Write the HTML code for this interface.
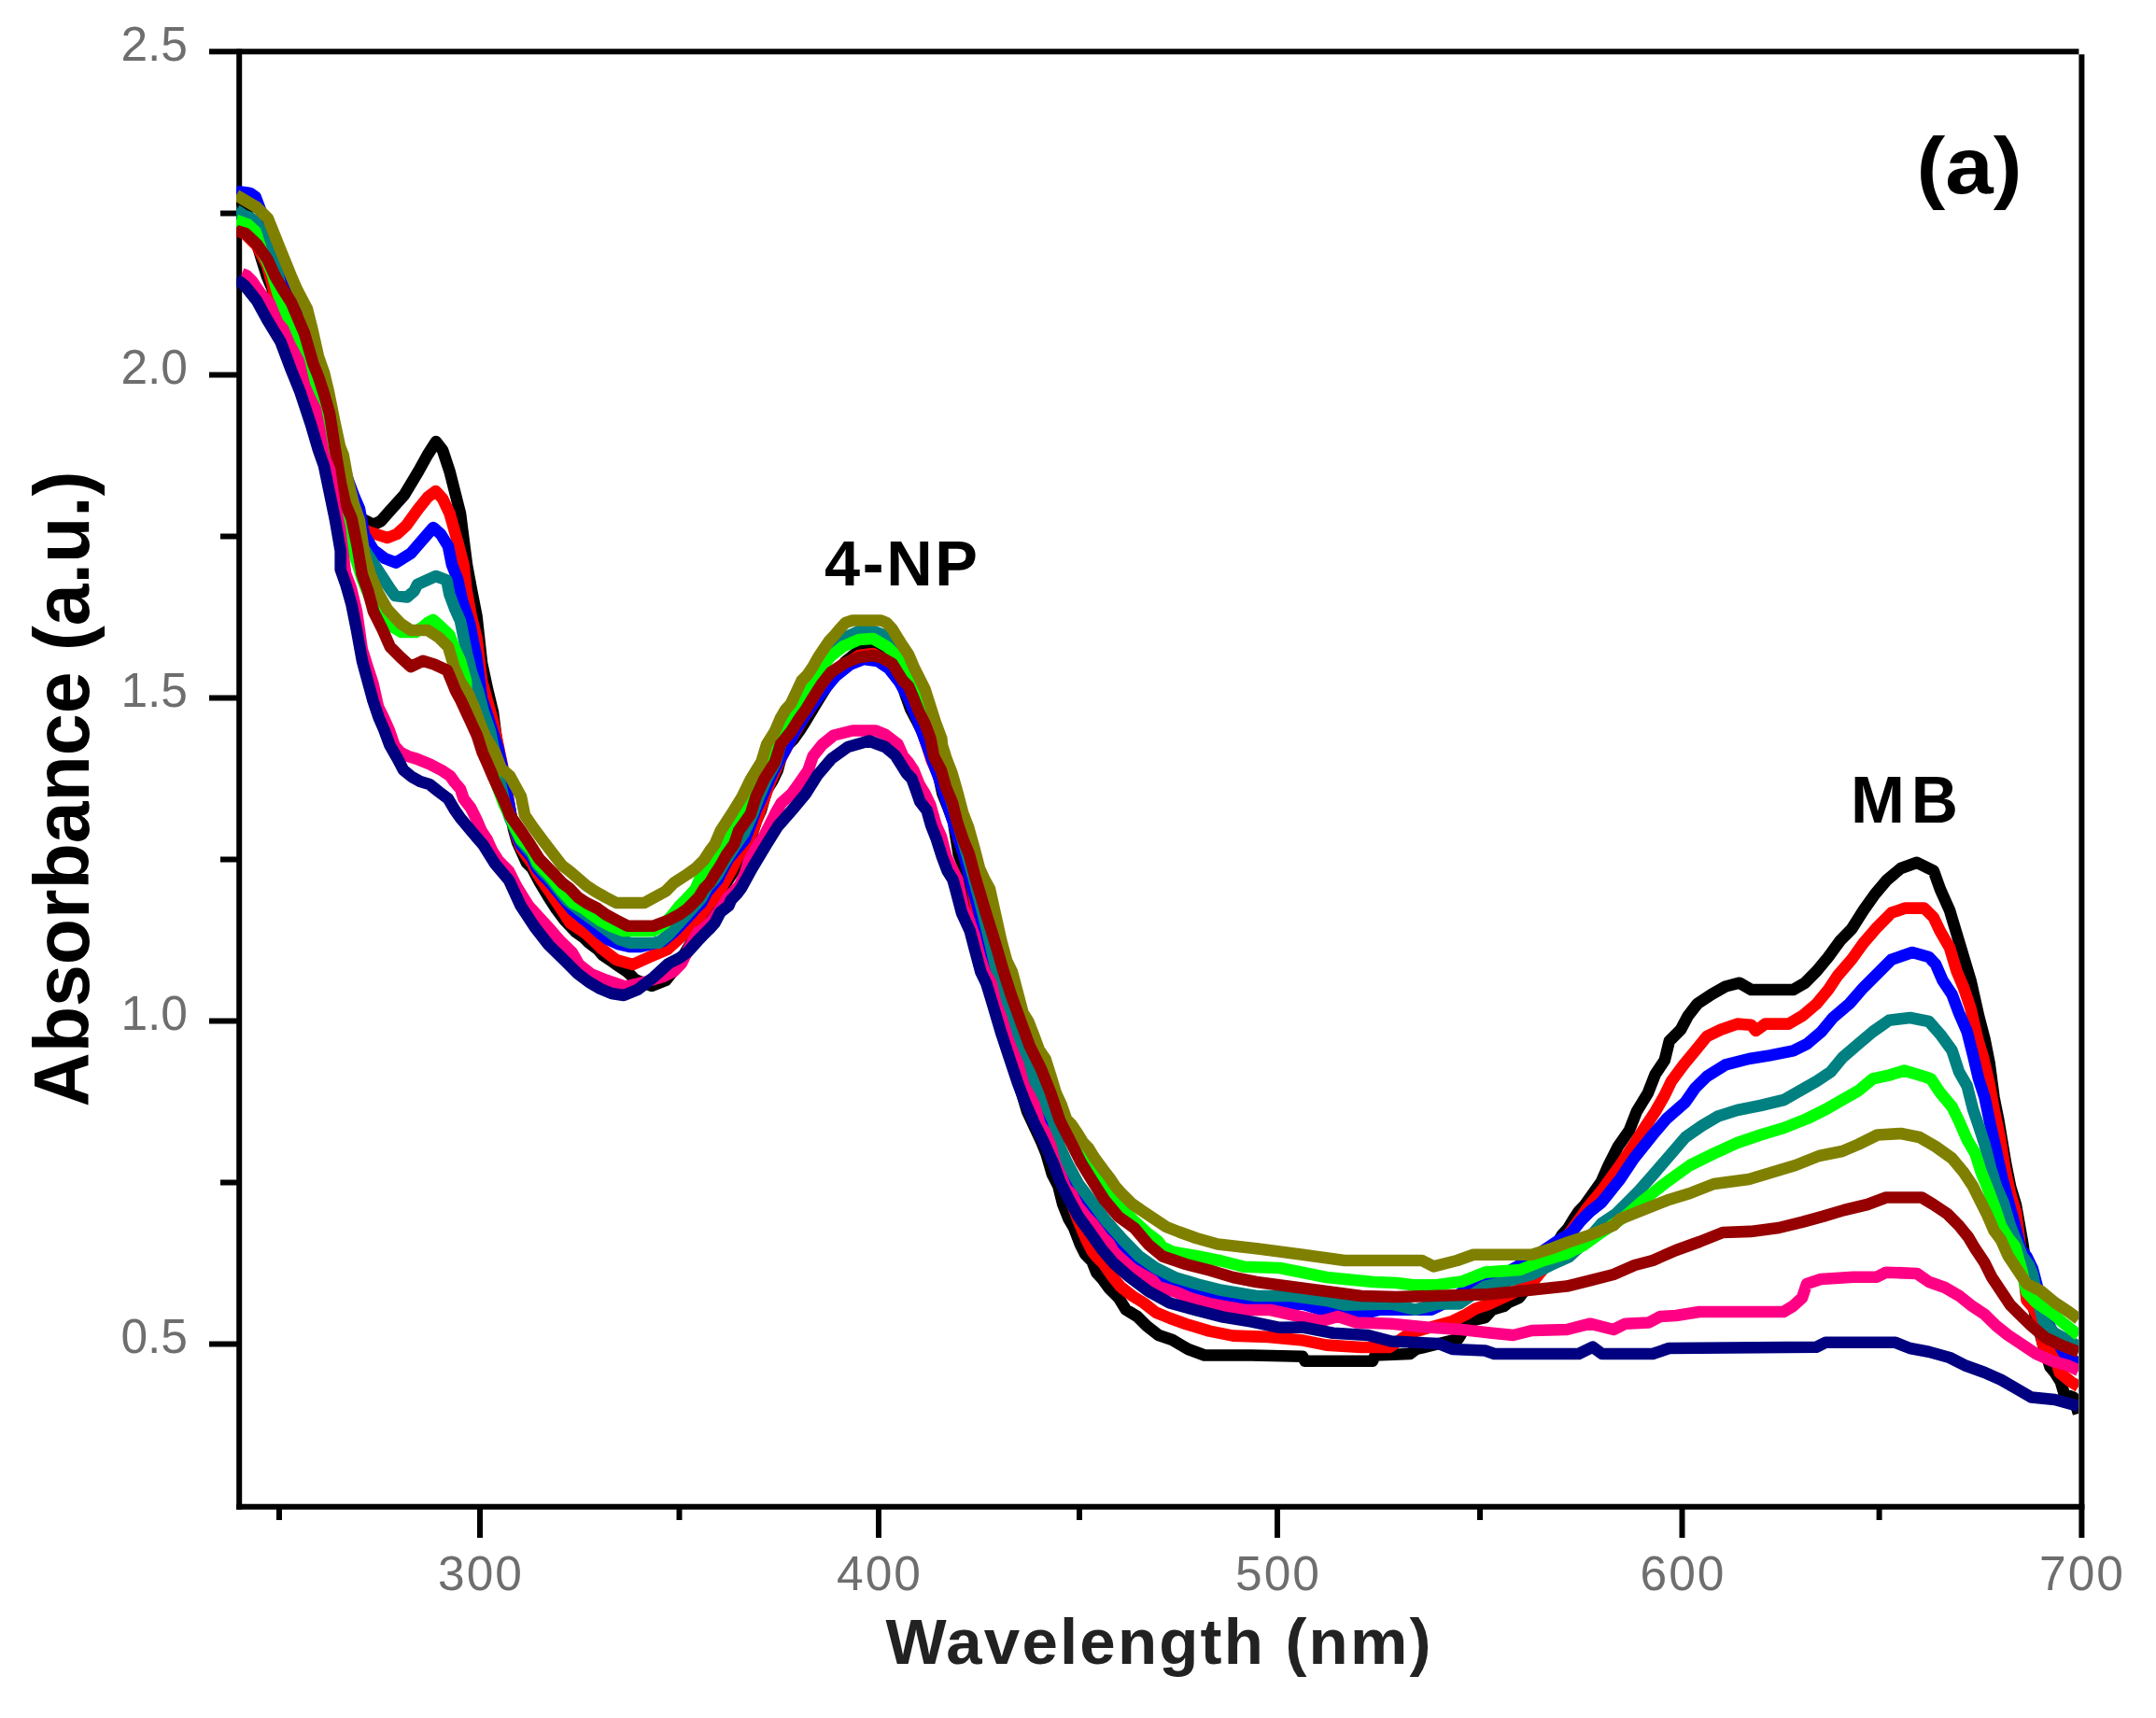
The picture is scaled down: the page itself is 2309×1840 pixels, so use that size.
<!DOCTYPE html>
<html lang="en"><head><meta charset="utf-8"><title>Absorbance spectra (a)</title>
<style>html,body{margin:0;padding:0;background:#fff}body{width:2309px;height:1840px;overflow:hidden}svg{display:block}text{font-family:"Liberation Sans",Arial,sans-serif}</style></head><body>
<svg width="2309" height="1840" viewBox="0 0 2309 1840">
<rect width="2309" height="1840" fill="#fff"/>
<g stroke="#000" stroke-width="6" fill="none" stroke-linecap="butt">
<path d="M224 55.3H2226.4"/>
<path d="M256.2 52.3V1616.8"/>
<path d="M253.2 1613.8H2232.4"/>
<path d="M2229.4 58.3V1647"/>
<path d="M224 401.5H256.2"/>
<path d="M224 747.5H256.2"/>
<path d="M224 1093.5H256.2"/>
<path d="M224 1439.5H256.2"/>
<path d="M236 228.5H256.2"/>
<path d="M236 574.5H256.2"/>
<path d="M236 920.5H256.2"/>
<path d="M236 1266.5H256.2"/>
<path d="M514 1613.8V1647"/>
<path d="M941 1613.8V1647"/>
<path d="M1368 1613.8V1647"/>
<path d="M1801.5 1613.8V1647"/>
<path d="M299 1613.8V1628"/>
<path d="M727.5 1613.8V1628"/>
<path d="M1156 1613.8V1628"/>
<path d="M1585 1613.8V1628"/>
<path d="M2012.6 1613.8V1628"/>
</g>
<clipPath id="c"><rect x="253" y="58" width="1973" height="1553"/></clipPath>
<g clip-path="url(#c)">
<polyline fill="none" stroke="#000000" stroke-width="12.6" stroke-linejoin="round" points="253,213 262,219 268,238 274,257 280,277 286,296 291.5,309 297,339 303,352 310,371 318,392 325,415 332,435 338,452 343,480 349,497 355,520 361,535 370,546 380,553 390,557 400,562 408,558 415,550 433,530 448,505 458,487 467,473 474,482 481.6,505 493,550 500,605 505,632 510.5,660 516,710 522,738 528,763 534,809 545,860 550,888 554,902 558,911 564,924 570,930 578,945 587,960 596,974 605,986 610.7,992 616.5,998 625,1004 631,1010 640,1016.6 645.6,1023 654.5,1029 663,1035 672,1041 680,1049 698,1056 713,1050 725,1035 740,1010 752,990 760,976.5 765,970 778,945 789,928 797.8,908 803.8,899 809.4,880.5 815,868 821,846.5 827,837 832.7,825 838.7,803 850.4,791 856,783 863,772 875,752 890,728 905,709 920,697 935,692 952.8,704 962,720 970,745 975,759 981.6,771.5 987.8,784 997.7,810 1003.3,822 1009.4,850 1015.4,865 1021,880 1026.6,914.8 1032.6,930 1038.7,946 1043,975 1047,1000 1053,1020 1063,1060 1074,1100 1083,1130 1091,1160 1100,1190 1115.3,1222.8 1120.3,1235 1127,1257.9 1133.3,1270 1138.3,1290 1144.3,1305 1150.3,1315.4 1157,1333 1162,1343 1169.3,1350.5 1174.3,1363 1180.7,1370 1188,1380 1198,1390 1205.8,1402.6 1218,1410 1228,1420 1240.8,1430 1255.5,1435 1272.5,1445 1290,1451.5 1340,1451.5 1395,1452.7 1397.7,1457.7 1470,1457.7 1472.8,1451.5 1510,1450 1516.6,1445 1561.7,1434 1573,1415 1590.5,1411 1598,1402.7 1610.5,1399 1615.5,1395 1626.8,1390 1650,1360 1673,1322.6 1679,1316 1685.7,1305 1690.7,1297.5 1697,1291 1702.7,1283 1715,1265.6 1722.7,1248 1732.8,1228 1745,1210.5 1752.8,1190.5 1765,1170.4 1772.8,1150.4 1782.8,1135.4 1787.8,1115 1800,1102.8 1807.9,1087.8 1817.9,1075 1833,1065 1848,1056.5 1863,1052.7 1875.5,1060 1920.5,1060 1933,1052.7 1945.6,1040 1958,1025 1970.6,1007.7 1983,995 1995.7,975 2008,957.6 2020.7,942.6 2035.7,930 2053,923.8 2070.8,932.6 2078,952.6 2088,975 2095.5,1000 2103,1025 2110.5,1050 2119,1087.8 2125.5,1112.8 2130.5,1137.9 2135.5,1175.4 2140.5,1200.5 2148,1245.5 2153,1270.6 2159,1290.6 2166,1330 2172,1370 2180,1410 2188,1440 2195.6,1464 2200.6,1470 2206.9,1480 2210.7,1492.9 2220.7,1496.6 2226,1514"/>
<polyline fill="none" stroke="#ff0000" stroke-width="12.6" stroke-linejoin="round" points="253,246 263,251 275,263 286,284 291.5,304 297,331 303,343 308.7,357 320,382.5 326,405.8 335,432 343.6,459 350,488 357,515 365,540 375,556 385,565 396,570 415,576 425,572 435,563 448,545 458,532.6 466.6,526 474,534 481.6,550 490,580 496.6,605 499.5,632 504.7,660 510.5,683 516,729 522,751 528,772 540,830 548,878 553,895 558,908 564,917 570,925 575,935 581,944 590,957 600,972 610.7,988.5 627.7,1000 645,1016.6 660,1028 677.8,1033 697.8,1024 715,1016.6 730,1002.8 745,987.8 758,970 770,955 783,932.7 789,920 806.7,889 824,840 835,815 848,790 860,770 875,748 890,728 905,712 920,702 935,700 950,708 962,722 972,740 982,765 990,790 998,815 1009.4,840.3 1015.4,852.6 1021,868 1026.6,899 1032.6,911.5 1038.7,933 1044.5,970.5 1059,1020.6 1065,1045 1070,1065 1076,1082.6 1081,1102.6 1087.6,1120 1094,1130 1099,1150 1105,1162.7 1111,1175 1116,1199 1125,1225 1135,1255 1145,1282 1155,1308 1164,1329 1170,1340.5 1175,1346.7 1181.5,1353 1190,1365.5 1200,1378 1212.8,1388 1225,1395.5 1237.8,1405.6 1252.8,1411.8 1270,1418 1295.4,1425.6 1320.5,1430.6 1358,1431.9 1395.6,1435.6 1420.6,1440.6 1458,1443 1488,1443 1510,1427.7 1555.5,1415 1570.5,1407.7 1580.5,1401.4 1595.5,1396.4 1620,1385 1643,1371.4 1660,1350 1680,1322 1702,1291 1715,1275.6 1735,1248 1750,1225.5 1762.8,1205.5 1772.8,1190.5 1782.8,1173 1790,1158 1803,1140.4 1815.4,1125.4 1828,1110 1843,1102.8 1860.5,1096.6 1875.5,1097.8 1880.5,1104 1890.5,1096.6 1915.5,1096.6 1930.6,1087.8 1945.6,1075 1958,1060 1968,1045 1983,1027.7 1995.7,1010 2010.7,992.7 2025.7,977.6 2040.7,972.6 2060.8,972.6 2070.8,982.6 2078,997.7 2088,1015 2095.5,1040 2103,1057.7 2110.5,1080 2118,1112.8 2124,1132.9 2130.5,1160.4 2135.5,1188 2141.8,1218 2148,1255.5 2153,1278 2159,1298 2165,1345 2170.6,1392.7 2176.9,1400 2181.9,1409 2188,1440 2199,1445 2205.7,1470 2218,1480 2226,1485"/>
<polyline fill="none" stroke="#0000ff" stroke-width="12.6" stroke-linejoin="round" points="253,205 262,206 268,207 273.7,211 278,222.4 283,236 297,266 310,298 320,320 330,345 338,375 346,405 353,435 360,465 367,495 373,515 379,531 385,545 390,572.6 400,589 412,598 424,602.7 440,592.7 453,577.6 464,565 472,572 480,585 484,605 490,620 495,643 503,668 510,703 513,725 516,748 522,766 528,785 533,800 538,822 543,850 548,878 553,893 558,905 564,912 570,919 575,930 581,937 587,943 593,950 602,961 613.5,975 622,982 631,989 643,1000 651,1006 662,1011 675,1014 685,1014 710,1008 722,998 733.6,985.7 739.7,979 745,973 751.3,967 757.4,955 768.5,942.4 774.6,930 780,920 786,913 797.8,899 803.8,883.6 809.4,868 815,856 827,828 840,805 852,782 865,762 880,742 895,724 910,712 925,706 940,708 952,716 963,730 973,748 983,772 992,796 1000,818 1008,840 1015,862 1024,890 1032,915 1040,945 1048,975 1056,1005 1066,1040 1076,1069 1082.6,1085 1087.6,1112.6 1094,1125 1100,1136.4 1110,1170 1122.7,1205 1134,1243 1140,1254 1146.4,1260 1152.7,1273 1157.7,1279 1164,1291.7 1170,1304 1175,1310 1181.5,1316.7 1187.8,1323 1192.8,1329 1202.8,1341.7 1210,1348 1215,1354 1230,1365.5 1245,1371.8 1257.9,1378 1283,1384 1315.5,1390.5 1345.5,1395.5 1370.5,1396.8 1395,1396.4 1415,1402.7 1452.8,1409 1477.9,1402.7 1503,1402.7 1533,1402.7 1555,1392 1574,1377.6 1590.5,1372.6 1615,1362 1640,1348 1655,1338 1670.6,1327.6 1683,1320 1693,1307.5 1703,1297.5 1715,1288 1735,1263 1750,1240.5 1770,1215.5 1785,1198 1805,1180.4 1815.4,1165.4 1828,1152.9 1848,1140.4 1873,1134 1895.5,1130.4 1920.5,1125.4 1935.6,1117.8 1950.6,1105 1963,1090 1980.6,1075 1995.7,1057.7 2010.7,1042.7 2025.7,1027.7 2048,1020 2065.8,1025 2073,1032.7 2080.5,1050 2090.5,1065 2098,1085 2106.7,1105 2113,1130 2119,1155.4 2125.5,1175.4 2131.8,1205.5 2138,1233 2144,1260.5 2150.6,1285.6 2158,1313 2164,1337.6 2170.6,1346 2176.9,1359 2185,1390 2195,1420 2205,1440 2212,1451.5 2226,1460"/>
<polyline fill="none" stroke="#008080" stroke-width="12.6" stroke-linejoin="round" points="253,225 262,231 268,233 274,238 280,248 286,258 292,275 298,295 303,322 308,350 314.5,371 322,395 330,420 338,445 345,475 352,500 358,525 365,545 372,560 380,572 390,588 403,608 411.5,621 417.3,630 423,638 436,639.5 443.5,633 447,626 458,621 466.8,617 478.4,621.3 481.3,636.4 487,651.6 493,665 500,700 505,720 512,740 518,763 525,783 531,812 536,840 541,862 546,876 552,889 558,901 564,908 570,915 575,926 581,933 587,939 593,946 602,957.5 607,964 622,976 640,989 651,997 663,1006 675,1010 705,1010 716,1001 728,988 739.7,975 745,969 751.3,962 757.4,950 763,944 768.5,937 774.6,926 786,908 797,892 806,872 813,853 821,834.5 831,816 836,797 841.7,775 852,758 863,742 875,722 887.7,697.6 900,685 920,676 935,676 946.5,680 952.8,685 965,705 975,725 985,750 995,778 1003,805 1010,830 1018,855 1026,882 1034,910 1042,938 1050,968 1058,1000 1065,1030 1070,1050 1087.6,1100 1105,1150 1117.6,1180 1127.7,1200 1135,1227.8 1142.7,1245 1155,1267.9 1170,1288 1185,1308 1202.8,1328 1220,1345.5 1237.8,1358 1257.9,1368 1283,1375.5 1308,1381.8 1345.5,1388 1383,1388 1420.6,1393 1440,1397.7 1490,1396.4 1515.4,1402.7 1540.5,1396.4 1563,1396.4 1575,1388 1590.5,1377.6 1615,1372 1640.6,1365 1660.6,1355 1680.7,1346 1700,1328 1715.7,1310 1730.7,1300 1740.8,1290 1755,1275.6 1772.8,1255.5 1790,1235.5 1805,1218 1823,1205.5 1840,1195.5 1860.5,1189 1885.5,1184 1910.5,1178 1928,1168 1945.6,1158 1960.6,1148 1973,1132.9 1990.6,1117.8 2005.7,1105 2023,1092.8 2045.7,1090 2065.8,1094 2078,1107.8 2090.5,1125 2098,1147.9 2106.7,1163 2113,1188 2119,1205.5 2125.5,1225.5 2131.8,1250.5 2138,1270.6 2145.6,1288 2153,1313 2158,1325.6 2165.6,1345 2173,1355 2176.9,1365 2183,1395 2188,1414 2193,1420 2200.6,1427.8 2212,1434 2226,1442"/>
<polyline fill="none" stroke="#00ff00" stroke-width="12.6" stroke-linejoin="round" points="253,236 265.6,240.5 273.7,248 280,268 286,280 291.5,293 297.5,314 303,328 306,334.5 314.5,352 320,371 326,389.5 332,412.8 337.8,426.7 343.6,443 349.4,478 355,494 361,533.8 367,552 372.7,570 380,595 388,620 396,640 405,655 414,665 420,671 430,677 445,677 452,672 458,667 464,664 472,671 481.4,680 487,695 493,708 499,729 500,754 507,772 515,792 523,812 531,838 540,862 546,874 552,887 558,899 564,905 570,911.5 575.6,924 581,930 587,936 593,943 602,954.5 613.5,967 625,973 634,979.7 642.5,985.7 654,991.8 668,997 700,997 712,989 720,980 727,971 733,965 738.6,959 744.7,952.4 750,940 756.3,934 762.4,928 772,912 784,893 797,870 812,843 827,809 844.7,778 850.7,769 858,754 865,737.7 877.7,717.6 890,702.6 902.7,692.6 920,685 935,684 950,692.6 962.8,705 970,720 977.8,730 987.8,750 995,775 1003,800 1010,820 1018,845 1025,870 1032,890 1038,910 1045,935 1052,955 1058,975 1065,995 1072,1018 1080,1040 1090,1070 1100,1100 1108,1122 1116,1142.7 1128,1172 1140,1200 1152,1225 1164,1247.8 1170,1254 1175,1260 1181.5,1273 1190,1279 1200,1292 1215,1308 1228,1320 1240,1329 1245,1335.5 1255,1340.5 1283,1345.5 1308,1350.5 1333,1356.8 1370.5,1358 1395.6,1363 1420.6,1368 1445.6,1370.5 1470.7,1373 1495.7,1374 1515.4,1376.4 1540,1376 1565.5,1372.6 1590.5,1362.6 1628,1360 1653,1350 1678,1342.6 1695.7,1333.8 1715,1320 1740.8,1302.5 1760,1285.6 1785.4,1265.6 1810,1248 1835.4,1235.5 1860.5,1224 1885.5,1215.5 1910.5,1208 1935.6,1198 1955.6,1188 1973,1178 1990.6,1168 2005.7,1155.4 2023,1151.6 2039.5,1146.6 2060.8,1153 2068,1155.4 2078,1170.4 2090.5,1185.4 2098,1200.5 2106.7,1220.5 2115.5,1235.5 2121.8,1255.5 2128,1270.6 2135.5,1290.6 2143,1313 2150.6,1325.6 2158,1335 2165,1360 2170.6,1384 2180.6,1395 2195.6,1405 2210.7,1417.7 2226,1430"/>
<polyline fill="none" stroke="#808000" stroke-width="12.6" stroke-linejoin="round" points="253,209 275,222 287,234 299,264 312,296 318,310 329,331 335,355 341,382 347,399 352,420 358,450 364,478 367.7,487.5 372.7,515 379,540 385,557.6 390,592.7 396.5,615 405,635 415,652.8 429,667.8 440,675 458,675 470,682.8 480,692.8 486.6,715 493,730 501.6,743 508,758 514,775 520.4,790.5 530,805.5 536.7,823 546,831 558,853 562,873 570.5,885.6 582,901 602,927 610,933 628,948.6 637,954.5 648.6,961 660,967 690,967 701,961 713,954.5 721.7,945.6 736.6,936 745,930 754,921 760,911.6 765.7,904 771.6,890 783.3,872 795,853 804,834.5 815.4,816 821.2,797 830,783 836,769 841.3,760 846.8,754 853,741 858.5,729 864.5,723 870.6,714 876.2,704 882.2,695 888.3,686 894,680 899.5,673.5 905.5,667 913,664.5 943.5,664.5 949.5,667 955.5,673.5 961.3,683 967,692 973,701 978.5,714 984.5,726 990.5,738 996.5,757 1002.3,775 1008.3,791 1009,798 1013.5,812.6 1019.5,828 1025.5,849 1031.3,871 1037.3,886.6 1043.4,908.5 1049,930 1054.5,942 1060,952 1064,970 1068,988 1072.3,1007.5 1078,1028.7 1084,1041 1089.7,1062.7 1095.5,1084.6 1101.4,1094 1107.2,1109 1113,1124.7 1119.5,1134 1125.2,1152 1131,1171 1137,1184 1142.2,1199 1148,1205 1154.4,1214.5 1160.2,1224 1166,1230 1171.8,1239.5 1181,1252 1188,1261 1194,1270 1200,1277 1206,1283 1212,1289 1222,1296 1231,1302 1240,1308 1249,1314 1263,1319.5 1281,1326 1304,1332.5 1347.7,1337.6 1395,1343.8 1440,1350 1523,1350 1535.4,1356.4 1560.5,1350 1578,1343.8 1640.6,1343.8 1660.6,1337.6 1678,1331 1703,1322.6 1728,1312.5 1735,1305.6 1760,1295.6 1785.4,1285.6 1810,1278 1835.4,1268 1873,1263 1898,1255.5 1923,1248 1948,1238 1973,1233 1990.6,1225.5 2010.7,1215.5 2035.7,1214 2055.7,1218 2073,1228 2090.5,1240.5 2103,1255.5 2113,1270.6 2120.5,1285.6 2128,1300.6 2135.5,1318 2143,1328 2150.6,1345 2160.6,1360 2170.6,1375 2185.6,1382.7 2200.6,1395 2215.7,1405 2226,1412.7"/>
<polyline fill="none" stroke="#960000" stroke-width="12.6" stroke-linejoin="round" points="253,247 263,250 275,261.5 286.5,277.8 294.7,296 303,310 312,324 320,343 326,357 335.4,389.5 341,403.5 347,422 353,443 358.7,480 360,487.5 365,517.6 370,540 376.5,555 382.7,585 387.7,615 394,632.7 400,655 410,675 417.8,692.8 429,704 440,714 452.8,707.8 465,711.6 479,718 484,730 488,740 493.5,750 499.5,763 505,775 511,788 516.7,806 522.5,819 528.5,833 534,845 540,858 546,873 558,890 565.5,901 577.6,920 595,938 602,945.6 610,951.5 619,961 628,967 640,973 648.7,979.4 660,985.5 672,991.7 700,991.7 716,985.5 727.8,979.4 736.6,973 742.5,967 748.3,961 754,951.7 760,945.6 765.7,936 771.6,927 777.7,916 786.3,904 791,890 803.8,872 809.6,853 818.4,834.5 830,816 836,797 847.5,783 856.4,769 863,760 869,750 880,732.7 890,720 905,710 920,704 935,702 943.5,704 955.5,710.7 961.3,720 967,729 973,735 978.5,748 984.5,763 990.5,775 996.5,791 1000,810 1007.9,825 1012.9,842.8 1020,860 1025,880 1031.7,900 1038,915 1044,938 1050,958 1056.7,980.5 1063,1000.6 1069,1020.6 1074,1038 1082.6,1065 1092.6,1092.6 1102.6,1120 1115,1145 1125,1170 1135,1200 1147.7,1225 1157.7,1245 1170,1265 1182.7,1285 1197.8,1303 1215,1315.4 1230,1333 1245,1345.5 1270,1354 1295.4,1360.5 1320.5,1368 1345.5,1373 1383,1378 1420.6,1383 1458,1388 1495.7,1389 1540.5,1387.7 1590.5,1386.4 1640.6,1381.4 1678,1377.6 1703,1371.4 1728,1365 1750.8,1355 1770,1350 1795,1339 1820,1330 1845,1320 1875,1318.9 1905,1315 1930,1308.8 1952.8,1302.6 1975,1296 2000,1290 2020,1282.5 2058,1282.5 2070.5,1290 2085.5,1300 2098,1312.6 2108,1325 2115.5,1337.6 2125.5,1352.6 2133,1367.7 2143,1382.7 2153,1397.7 2163,1407.7 2175.6,1420 2190.6,1432.8 2205.7,1440 2226,1448"/>
<polyline fill="none" stroke="#ff0084" stroke-width="12.6" stroke-linejoin="round" points="259,293 264,295 270,301 279.6,315 289,325.5 297,345 303,352 310,368.5 320,387 326,412.8 332,426.7 337.8,438 342,459 346.7,487 353,503 358.7,542 364,565 370,614 376,630 382,655 387.7,695 393.6,714 399.4,732 405,757 411,769 416.8,782 422.7,799 429,806 437,810 446,812.6 461,818.8 473,825 482,831 487,838 493,845 496.6,855.6 504,865 510,877 515.6,890 521.6,899 527.2,911.5 533.3,921 539,927 545,933 553,949 566,970 577.6,982.8 589,995 600,1007.8 612.7,1020 620,1032.9 632.7,1043 650,1050 670,1056.7 690,1052 710,1046 722,1040 730,1031.6 738,1015 747.9,998 751,997 757,991.6 763,985.3 774,970 780,960.7 786,954.7 792,948.4 797.8,936 802,922 813,902.7 818,896 824,884 830.5,871 836.8,860 848,850 858,836 865.5,825 870.6,810 880.6,797.5 893,787.5 913,782.5 938,782.5 947.8,786.5 961.5,797 967,809.5 972.5,816 978.5,825 984.5,840 990.3,849.5 996.3,862 1002.4,883.5 1008,896 1013.5,917.7 1019.5,930 1025.5,942 1031.9,973 1036.5,983 1043.2,1000.6 1049.5,1025.6 1055.5,1043 1061.5,1052.5 1066.5,1075 1072.5,1090 1079.1,1112.6 1084.1,1125 1090.5,1140 1096.5,1162.7 1102.5,1172.7 1107.5,1182.7 1114.1,1205 1119.2,1212.8 1125.5,1227.8 1130.5,1247.8 1136.5,1260 1141.5,1272.9 1147.9,1279 1154.2,1291.7 1164,1304 1170,1310 1175,1316.7 1181.5,1325.5 1187.8,1331.7 1192.8,1340.5 1199,1346.7 1212.8,1359 1235,1371.8 1240,1378 1260,1384 1275.4,1390.5 1298,1396.8 1333,1403 1360.5,1403 1383,1408 1415,1415 1432.8,1410 1452.8,1416.5 1490,1417.7 1528,1421.5 1565.5,1424 1598,1427.7 1620.6,1430 1640.6,1425 1678,1424 1703,1417.7 1728,1424 1740.8,1417.7 1765.8,1416.5 1778,1410 1795,1409 1820,1405 1910,1405 1920,1399 1930,1390 1935,1375 1950,1370 1985,1367.7 2010,1367.7 2020,1362.7 2053,1364 2065.5,1372.7 2083,1379 2098,1387.7 2110.5,1397.7 2125.5,1407.7 2138,1420 2150.6,1430 2165.6,1440 2180.6,1450 2198,1457.8 2215.7,1462.8 2226,1467.8"/>
<polyline fill="none" stroke="#000080" stroke-width="12.6" stroke-linejoin="round" points="253,299 262,305.7 275,322 286.5,343 300.5,366 312,396.5 321.5,420 333,454.7 341,482 347,499 353,528 359,557 364.7,590 364.7,610 370.7,627 376.4,647 382,675 388,708 393.7,729 399.7,751 405.7,768.7 411.3,781.5 417.3,797.8 426,813 432,824.6 441,832 450,837 460,840 470,848 480,855.6 486.6,866.8 493,876 503,888 517.5,905 530,925 545,942.7 557.6,970 572.6,992.8 587.6,1012 605,1029 619,1043 631,1052 643,1059 655,1064 668,1066 682.8,1060 700,1046.6 716,1032 727.7,1026 736.6,1019.6 742.5,1013 748,1006.8 754,1000.7 760,994.7 765.5,988.6 771.5,977 780.4,970 783,963.8 789,957.7 794,951 805.5,930 820.5,905 833,885 850.5,865 863,850 875.6,830 890.6,812.5 908,800 930.7,793.5 948,800 959,809.3 964.9,818.6 970.7,828 976.5,834 981,846.3 985.3,858.7 992.6,868 997,883.6 1003,899 1008.9,917.6 1014.7,933 1020.5,942.2 1024,955 1030,977.8 1038.7,997 1044.5,1019 1050.4,1041 1056.2,1053 1062,1072 1072.6,1107.6 1080,1130 1090,1160 1097.6,1180 1107.6,1202.8 1117.6,1222.8 1127.7,1245 1135,1265 1145,1285 1155,1303 1167.7,1320.5 1180,1338 1192.8,1353 1210,1368 1230,1383 1252.8,1395.5 1280,1403 1310,1410.6 1340.5,1415.6 1370.5,1421.8 1395,1421.5 1427.8,1427.7 1465,1430 1490,1436.5 1540.5,1439 1555.5,1445 1590.5,1446.5 1600.5,1450 1690.7,1450 1705.7,1442.7 1715.7,1450 1770,1450 1787.5,1444 1945,1442.8 1955,1437.8 2030,1437.8 2045.4,1444 2065.5,1447.8 2088,1454 2105.5,1462.8 2125.5,1470 2143,1477.8 2160.6,1487.9 2175.6,1496.6 2200.6,1499 2226,1506"/>
</g>
<g font-size="51.5" fill="#6e6e6e" text-anchor="end">
<text x="201" y="65.0">2.5</text>
<text x="201" y="411.0">2.0</text>
<text x="201" y="757.0">1.5</text>
<text x="201" y="1103.0">1.0</text>
<text x="201" y="1449.0">0.5</text>
</g>
<g font-size="51.5" fill="#6e6e6e" text-anchor="middle" letter-spacing="2">
<text x="515" y="1702.5">300</text>
<text x="942" y="1702.5">400</text>
<text x="1369" y="1702.5">500</text>
<text x="1802.5" y="1702.5">600</text>
<text x="2230" y="1702.5">700</text>
</g>
<text x="948.5" y="1782" font-size="69" font-weight="bold" fill="#222" textLength="584" lengthAdjust="spacing">Wavelength (nm)</text>
<text transform="translate(95,1185.5) rotate(-90)" font-size="82.5" font-weight="bold" fill="#000" textLength="681" lengthAdjust="spacingAndGlyphs">Absorbance (a.u.)</text>
<text x="2052.5" y="207" font-size="85" font-weight="bold" fill="#000" textLength="113" lengthAdjust="spacingAndGlyphs">(a)</text>
<text x="883" y="627" font-size="68.5" font-weight="bold" fill="#000" textLength="164" lengthAdjust="spacing">4-NP</text>
<text x="1982" y="880.5" font-size="69.5" font-weight="bold" fill="#000" textLength="115" lengthAdjust="spacing">MB</text>
</svg></body></html>
